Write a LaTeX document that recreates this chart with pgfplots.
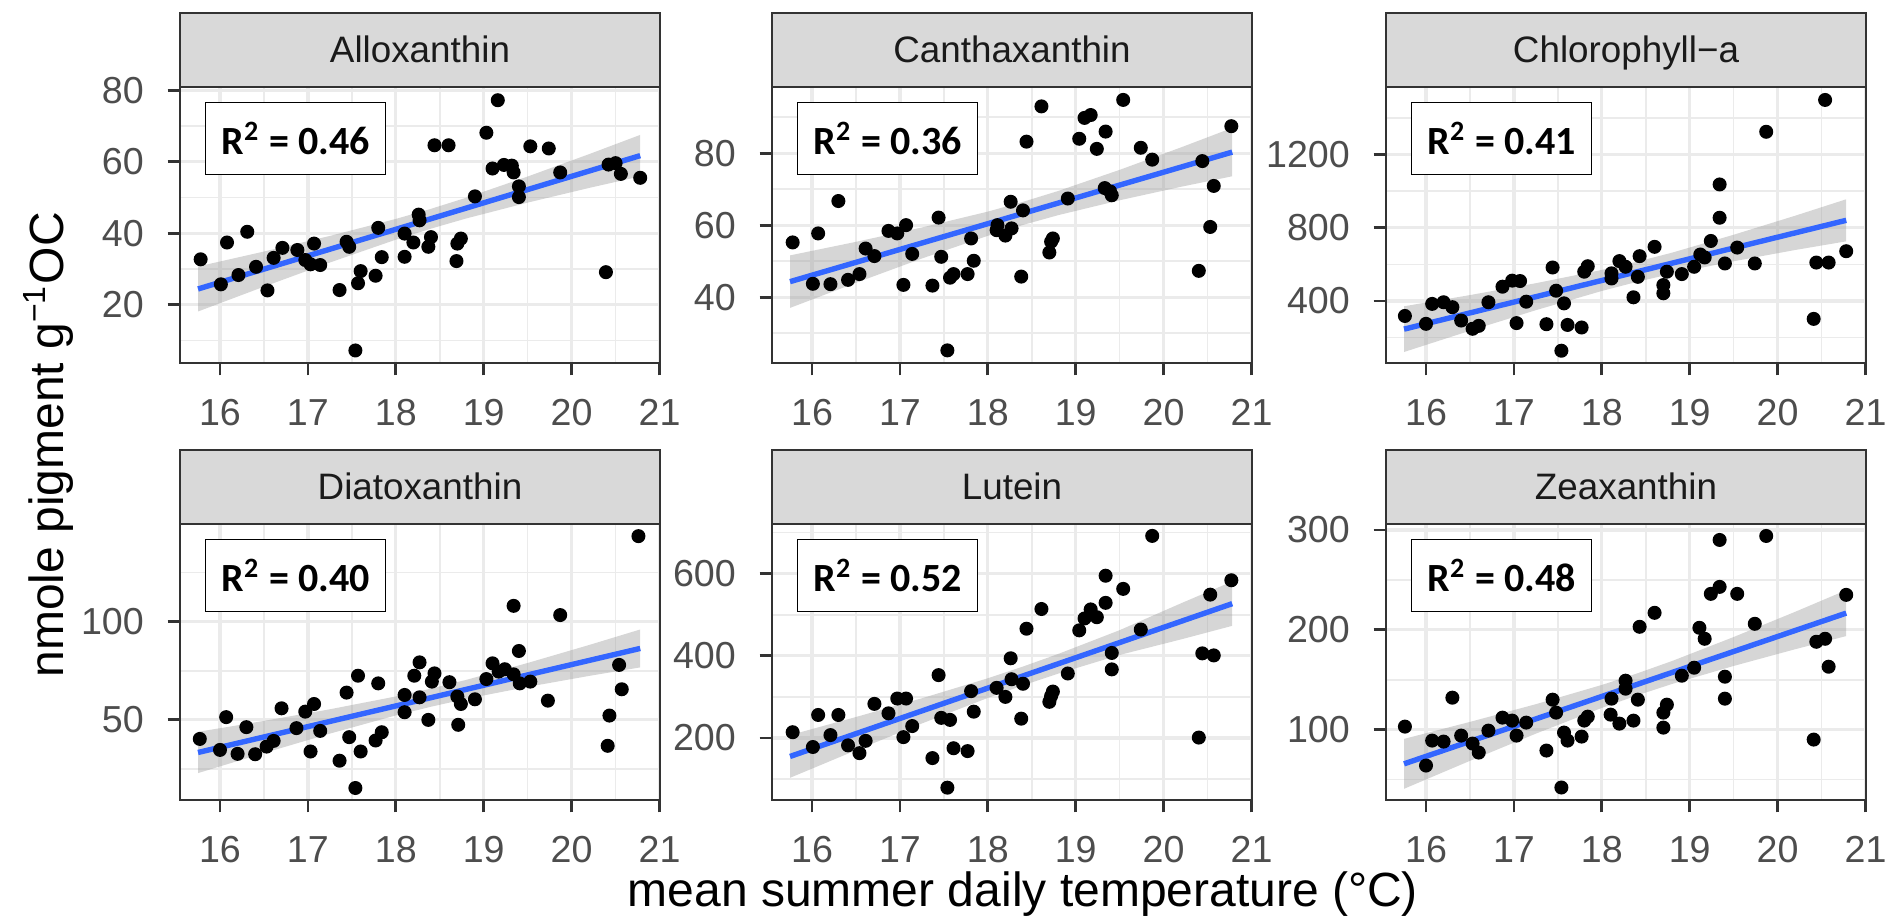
\documentclass[border=0pt]{standalone}
\usepackage{pgfplots}
\pgfplotsset{compat=1.18}
\usepackage{pgfplotstable}
\usepackage{fontspec}
\setmainfont{Liberation Sans}
\newfontfamily\carlito{Carlito}
\definecolor{grey20}{HTML}{333333}
\definecolor{grey30}{HTML}{4D4D4D}
\definecolor{grey10}{HTML}{1A1A1A}
\definecolor{grey85}{HTML}{D9D9D9}
\definecolor{grey92}{HTML}{EBEBEB}
\definecolor{grey60}{HTML}{999999}
\definecolor{ggblue}{HTML}{3366FF}
\newcommand{\ticksize}{\fontsize{9.4}{11}\selectfont}
\newcommand{\stripsize}{\fontsize{9.2}{11}\selectfont}
\newcommand{\titlesize}{\fontsize{12}{14}\selectfont}

\pgfplotstableread{
x y
15.78 32.7
16.01 25.7
16.08 37.4
16.21 28.3
16.31 40.4
16.41 30.6
16.54 24.0
16.61 33.1
16.71 35.9
16.88 35.3
16.97 32.5
17.03 31.3
17.07 37.1
17.14 31.1
17.36 24.1
17.44 37.6
17.47 36.2
17.54 7.2
17.57 26.0
17.60 29.4
17.77 28.1
17.80 41.5
17.84 33.3
18.10 33.4
18.10 39.9
18.20 37.4
18.26 45.2
18.27 43.6
18.37 36.2
18.40 38.9
18.44 64.6
18.60 64.6
18.69 32.2
18.70 37.1
18.74 38.5
18.90 50.3
19.03 68.1
19.10 58.1
19.16 77.2
19.23 59.1
19.32 58.9
19.34 57.0
19.40 53.1
19.40 50.1
19.53 64.3
19.74 63.7
19.87 57.0
20.39 29.1
20.42 59.2
20.50 59.6
20.56 56.6
20.78 55.5
}\dAllox

\pgfplotstableread{
x y
15.78 55.2
16.01 43.7
16.07 57.7
16.21 43.6
16.30 66.7
16.41 44.8
16.54 46.4
16.61 53.5
16.71 51.4
16.87 58.4
16.97 57.7
17.04 43.4
17.07 60.0
17.14 52.0
17.37 43.2
17.44 62.1
17.47 51.2
17.54 25.2
17.57 45.4
17.61 46.4
17.77 46.4
17.81 56.3
17.84 50.1
18.10 58.6
18.11 60.0
18.20 57.1
18.26 66.5
18.27 59.1
18.38 45.7
18.40 64.1
18.44 83.2
18.61 93.0
18.70 52.4
18.72 55.4
18.74 56.3
18.91 67.4
19.04 84.0
19.10 89.8
19.17 90.6
19.24 81.2
19.33 70.3
19.34 86.0
19.39 69.4
19.41 68.3
19.54 94.8
19.74 81.5
19.87 78.2
20.40 47.3
20.44 77.8
20.53 59.5
20.57 70.9
20.77 87.5
}\dCantha

\pgfplotstableread{
x y
15.76 318
16.00 275
16.07 384
16.20 393
16.30 366
16.40 293
16.53 248
16.60 264
16.71 393
16.87 478
16.98 511
17.03 279
17.07 509
17.14 396
17.37 273
17.44 583
17.48 456
17.54 128
17.57 387
17.61 269
17.77 255
17.80 560
17.84 590
18.11 523
18.11 551
18.20 618
18.27 587
18.36 420
18.41 532
18.43 645
18.60 696
18.70 487
18.70 442
18.74 560
18.91 547
19.05 587
19.12 654
19.17 638
19.24 728
19.34 855
19.34 1037
19.40 605
19.54 692
19.74 605
19.87 1325
20.41 302
20.44 610
20.54 1499
20.58 610
20.78 672
}\dChl

\pgfplotstableread{
x y
15.77 40.3
16.00 34.7
16.07 51.4
16.20 32.7
16.30 46.3
16.40 32.5
16.53 36.4
16.61 39.3
16.70 55.9
16.87 45.8
16.97 54.2
17.03 33.9
17.07 58.1
17.14 44.4
17.36 29.2
17.44 63.9
17.47 41.2
17.54 15.3
17.57 72.5
17.60 33.9
17.77 39.5
17.80 68.6
17.84 43.7
18.10 62.7
18.10 53.9
18.21 72.5
18.27 79.3
18.27 61.5
18.37 50.0
18.41 69.5
18.44 73.7
18.61 69.2
18.70 61.9
18.71 47.5
18.74 58.1
18.90 60.5
19.03 70.8
19.10 78.8
19.17 74.6
19.24 75.8
19.34 108.1
19.34 73.2
19.40 85.1
19.41 68.6
19.53 69.5
19.73 59.8
19.87 103.4
20.41 36.8
20.43 52.2
20.54 78.0
20.57 65.6
20.76 143.6
}\dDiato

\pgfplotstableread{
x y
15.78 214
16.01 178
16.07 256
16.21 207
16.30 256
16.41 182
16.54 163
16.61 193
16.71 283
16.87 260
16.97 296
17.04 202
17.07 296
17.14 229
17.37 151
17.44 353
17.47 249
17.54 79
17.57 244
17.61 175
17.77 168
17.81 314
17.84 264
18.10 322
18.20 300
18.26 394
18.27 343
18.38 247
18.40 332
18.44 466
18.61 514
18.70 288
18.72 302
18.74 313
18.91 357
19.04 462
19.10 491
19.17 513
19.24 494
19.34 595
19.34 529
19.41 407
19.41 367
19.54 563
19.74 464
19.87 692
20.40 201
20.44 406
20.53 549
20.57 401
20.77 584
}\dLutein

\pgfplotstableread{
x y
15.76 103
16.00 64
16.07 89
16.20 88
16.30 132
16.40 94
16.53 86
16.60 77
16.71 99
16.87 112
16.98 109
17.03 94
17.14 107
17.37 79
17.44 130
17.48 117
17.54 42
17.57 97
17.61 89
17.77 93
17.80 109
17.84 113
18.11 131
18.10 115
18.20 106
18.27 149
18.27 141
18.36 109
18.41 130
18.43 203
18.60 217
18.70 102
18.70 117
18.74 125
18.91 154
19.05 162
19.11 202
19.17 191
19.24 236
19.34 243
19.34 290
19.40 153
19.40 131
19.54 236
19.74 206
19.87 294
20.41 90
20.44 188
20.54 191
20.58 163
20.78 235
}\dZea

\pgfplotsset{
  panel/.style={
    anchor=south west,
    scale only axis, width=120pt, height=69pt,
    xmin=15.545, xmax=21.005,
    xtick={16,17,18,19,20,21},
    minor xtick={16.5,17.5,18.5,19.5,20.5},
    xmajorgrids, ymajorgrids, xminorgrids, yminorgrids,
    major grid style={color=grey92, line width=0.8pt},
    minor grid style={color=grey92, line width=0.4pt},
    axis line style={color=grey20, line width=0.7pt},
    tick align=outside, major tick length=3.1pt, minor tick length=0pt,
    major tick style={color=grey20, line width=0.7pt},
    xtick pos=bottom, ytick pos=left,
    scaled ticks=false,
    /pgf/number format/assume math mode=true,
    /pgf/number format/1000 sep={},
    tick label style={font=\ticksize, text=grey30},
    xticklabel style={anchor=north, inner sep=0pt, yshift=-5.75pt},
    yticklabel style={anchor=east, inner sep=0pt, xshift=-5.75pt},
  },
  pts/.style={only marks, mark=*, mark size=1.55pt, mark options={draw=black, fill=black}},
  band/.style={draw=none, fill=grey60, fill opacity=0.4},
  fit/.style={color=ggblue, line width=1.35pt},
}
\tikzset{
  rbox/.style={anchor=north west, xshift=6.25pt, yshift=-3.75pt, draw=black, line width=0.35pt, fill=white,
    minimum width=45pt, minimum height=18pt, inner sep=0pt, font={\carlito\bfseries\fontsize{10}{12}\selectfont}},
}

\newcommand{\strip}[2]{%
  \draw[fill=grey85, draw=grey20, line width=0.7pt] (#1.north west) rectangle ([yshift=18.5pt]#1.north east);
  \node[anchor=base, font=\stripsize, text=grey10, inner sep=0pt] at ([yshift=6.1pt]#1.north) {#2};
}

\begin{document}
\begin{tikzpicture}
\useasboundingbox (0,0) rectangle (471.25pt,229.25pt);

% ---- Alloxanthin
\begin{axis}[panel, name=p1, at={(45pt,138.5pt)},
  ymin=3.7, ymax=80.9, ytick={20,40,60,80}, minor ytick={10,30,50,70}]
\addplot[pts] table {\dAllox};
\addplot[band] coordinates {(15.75,30.7) (16.5,34.87) (17.25,39.24) (18.0,43.99) (18.4,46.82) (18.8,49.92) (19.5,55.86) (20.2,62.13) (20.78,67.5)
 (20.78,55.9) (20.2,52.67) (19.5,48.56) (18.8,44.12) (18.4,41.28) (18.0,38.19) (17.25,31.8) (16.5,25.05) (15.75,18.1)} -- cycle;
\addplot[fit] coordinates {(15.75,24.4) (20.78,61.7)};
\node[rbox] at (rel axis cs:0,1) {R\textsuperscript{2} = 0.46};
\end{axis}

% ---- Canthaxanthin
\begin{axis}[panel, name=p2, at={(193pt,138.5pt)},
  ymin=21.7, ymax=98.4, ytick={40,60,80}, minor ytick={30,50,70,90}]
\addplot[pts] table {\dCantha};
\addplot[band] coordinates {(15.75,51.6) (16.5,55.36) (17.25,59.35) (18.0,63.76) (18.4,66.48) (18.8,69.49) (19.5,75.37) (20.2,81.63) (20.78,87.02)
 (20.78,73.58) (20.2,70.67) (19.5,66.91) (18.8,62.77) (18.4,60.06) (18.0,57.04) (17.25,50.73) (16.5,43.98) (15.75,37.0)} -- cycle;
\addplot[fit] coordinates {(15.75,44.3) (20.78,80.3)};
\node[rbox] at (rel axis cs:0,1) {R\textsuperscript{2} = 0.36};
\end{axis}

% ---- Chlorophyll-a
\begin{axis}[panel, name=p3, at={(346.5pt,138.5pt)},
  ymin=61, ymax=1570, ytick={400,800,1200}, minor ytick={200,600,1000,1400}]
\addplot[pts] table {\dChl};
\addplot[band] coordinates {(15.75,371) (16.5,432.2) (17.25,497.2) (18.0,569.7) (18.4,614.5) (18.8,664.3) (19.5,762.1) (20.2,866.2) (20.78,956)
 (20.78,726) (20.2,678.7) (19.5,617.1) (18.8,549.3) (18.4,504.5) (18.0,454.7) (17.25,349.7) (16.5,237.2) (15.75,121)} -- cycle;
\addplot[fit] coordinates {(15.75,246) (20.78,841)};
\node[rbox] at (rel axis cs:0,1) {R\textsuperscript{2} = 0.41};
\end{axis}

% ---- Diatoxanthin
\begin{axis}[panel, name=p4, at={(45pt,29.25pt)},
  ymin=9.2, ymax=149.8, ytick={50,100}, minor ytick={25,75,125}]
\addplot[pts] table {\dDiato};
\addplot[band] coordinates {(15.75,43.9) (16.5,49.49) (17.25,55.41) (18.0,61.94) (18.4,65.94) (18.8,70.37) (19.5,79.0) (20.2,88.17) (20.78,96.06)
 (20.78,76.74) (20.2,72.41) (19.5,66.82) (18.8,60.71) (18.4,56.7) (18.0,52.28) (17.25,43.01) (16.5,33.11) (15.75,22.9)} -- cycle;
\addplot[fit] coordinates {(15.75,33.4) (20.78,86.4)};
\node[rbox] at (rel axis cs:0,1) {R\textsuperscript{2} = 0.40};
\end{axis}

% ---- Lutein
\begin{axis}[panel, name=p5, at={(193pt,29.25pt)},
  ymin=49, ymax=721, ytick={200,400,600}, minor ytick={100,300,500,700}]
\addplot[pts] table {\dLutein};
\addplot[band] coordinates {(15.75,207) (16.5,251.03) (17.25,296.62) (18.0,345.33) (18.4,373.88) (18.8,404.5) (19.5,462.51) (20.2,528.1) (20.78,581)
 (20.78,473) (20.2,440.1) (19.5,402.19) (18.8,356.66) (18.4,328.12) (18.0,297.49) (17.25,235.26) (16.5,169.91) (15.75,103)} -- cycle;
\addplot[fit] coordinates {(15.75,155) (20.78,527)};
\node[rbox] at (rel axis cs:0,1) {R\textsuperscript{2} = 0.52};
\end{axis}

% ---- Zeaxanthin
\begin{axis}[panel, name=p6, at={(346.5pt,29.25pt)},
  ymin=29.5, ymax=306, ytick={100,200,300}, minor ytick={50,150,250}]
\addplot[pts] table {\dZea};
\addplot[band] coordinates {(15.75,90.7) (16.5,107.72) (17.25,125.48) (18.0,144.75) (18.4,156.25) (18.8,168.76) (19.5,192.78) (20.2,218.04) (20.78,239.7)
 (20.78,193.7) (20.2,180.54) (19.5,163.78) (18.8,145.76) (18.4,134.25) (18.0,121.75) (17.25,95.98) (16.5,68.72) (15.75,40.7)} -- cycle;
\addplot[fit] coordinates {(15.75,65.7) (20.78,216.7)};
\node[rbox] at (rel axis cs:0,1) {R\textsuperscript{2} = 0.48};
\end{axis}

\strip{p1}{Alloxanthin}
\strip{p2}{Canthaxanthin}
\strip{p3}{Chlorophyll−a}
\strip{p4}{Diatoxanthin}
\strip{p5}{Lutein}
\strip{p6}{Zeaxanthin}

\node[anchor=base, font=\titlesize, inner sep=0pt] at (255.75pt,2.5pt) {mean summer daily temperature (°C)};
\node[anchor=base, rotate=90, font=\titlesize, inner sep=0pt] at (15.75pt,118pt) {nmole pigment g\textsuperscript{−1}OC};
\end{tikzpicture}
\end{document}
